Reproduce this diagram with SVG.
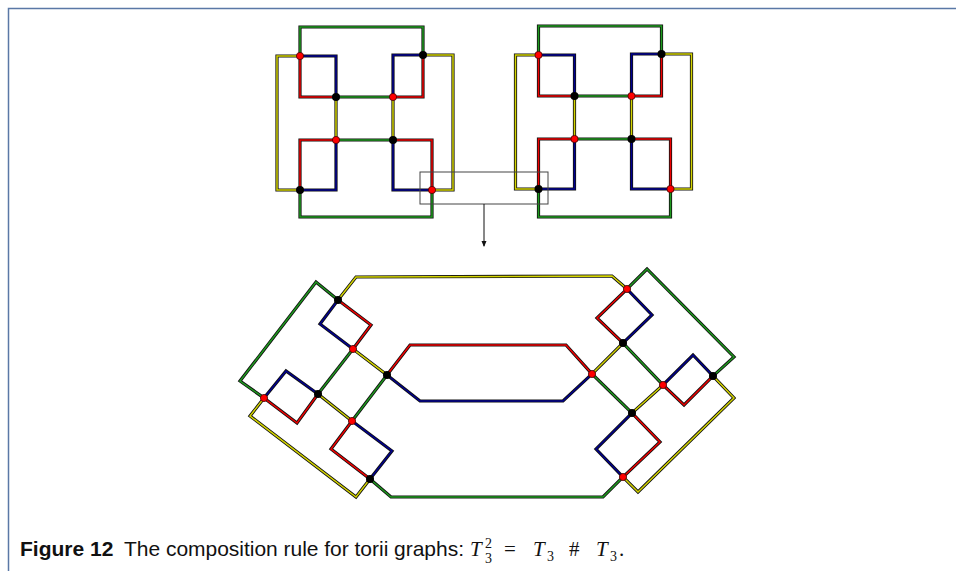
<svg xmlns="http://www.w3.org/2000/svg" width="956" height="571" viewBox="0 0 956 571">
<style>
.o{fill:none;stroke:#111;stroke-width:3.2;stroke-linejoin:miter;stroke-linecap:square}
.c{fill:none;stroke-width:1.5;stroke-linejoin:miter;stroke-linecap:square}
.g{stroke:#1e9a1e}.r{stroke:#f00000}.b{stroke:#000090}.y{stroke:#d4d400}
.nr{fill:#ff0000;stroke:#400;stroke-width:0.8}
.nb{fill:#000}
.cap{font-family:"Liberation Sans",Arial,sans-serif;font-size:21px;fill:#111}
.m{font-family:"Liberation Serif","Times New Roman",serif;font-style:italic;font-size:21px;fill:#111}
.mr{font-family:"Liberation Serif","Times New Roman",serif;font-size:21px;fill:#111}
.ms{font-family:"Liberation Serif","Times New Roman",serif;font-size:14px;fill:#111}
</style>
<defs>
<marker id="ah" viewBox="0 0 6 6" refX="5" refY="3" markerWidth="6" markerHeight="6" orient="auto" markerUnits="userSpaceOnUse">
<path d="M0,0.5 L6,3 L0,5.5 Z" fill="#111"/>
</marker>
</defs>
<rect width="956" height="571" fill="#fff"/>
<path d="M8.5,571 V8.5 H956" fill="none" stroke="#5a78a6" stroke-width="1.5"/>

<!-- Top left torus graph -->
<g id="graphA">
<g id="graphA-connectors">
<path class="o" d="M300,56 V27 H423 V55"/><path class="c g" d="M300,56 V27 H423 V55"/>
<path class="o" d="M300,56 H277 V190 H300"/><path class="c y" d="M300,56 H277 V190 H300"/>
<path class="o" d="M423,55 H453 V190 H432"/><path class="c y" d="M423,55 H453 V190 H432"/>
<path class="o" d="M300,56 H336 V97"/><path class="c b" d="M300,56 H336 V97"/>
<path class="o" d="M300,56 V97 H336"/><path class="c r" d="M300,56 V97 H336"/>
<path class="o" d="M336,97 H393"/><path class="c g" d="M336,97 H393"/>
<path class="o" d="M393,97 V55 H423"/><path class="c b" d="M393,97 V55 H423"/>
<path class="o" d="M423,55 V97 H393"/><path class="c r" d="M423,55 V97 H393"/>
<path class="o" d="M336,97 V140 M393,97 V140"/><path class="c y" d="M336,97 V140 M393,97 V140"/>
<path class="o" d="M336,140 H393"/><path class="c g" d="M336,140 H393"/>
<path class="o" d="M336,140 H300 V190"/><path class="c r" d="M336,140 H300 V190"/>
<path class="o" d="M336,140 V190 H300"/><path class="c b" d="M336,140 V190 H300"/>
<path class="o" d="M393,140 H432 V190"/><path class="c r" d="M393,140 H432 V190"/>
<path class="o" d="M393,140 V190 H432"/><path class="c b" d="M393,140 V190 H432"/>
<path class="o" d="M300,190 V217 H432 V190"/><path class="c g" d="M300,190 V217 H432 V190"/>
</g>
<g id="a1"><circle class="nr" cx="300" cy="56" r="3.6"/></g>
<g id="a2"><circle class="nb" cx="423" cy="55" r="4"/></g>
<g id="a3"><circle class="nb" cx="336" cy="97" r="4"/></g>
<g id="a4"><circle class="nr" cx="393" cy="97" r="3.6"/></g>
<g id="a5"><circle class="nr" cx="336" cy="140" r="3.6"/></g>
<g id="a6"><circle class="nb" cx="393" cy="140" r="4"/></g>
<g id="a7"><circle class="nb" cx="300" cy="190" r="4"/></g>
<g id="a8"><circle class="nr" cx="432" cy="190" r="3.6"/></g>
</g>

<!-- Top right torus graph -->
<g id="graphB" transform="translate(238.5,-1)">
<g id="graphB-connectors">
<path class="o" d="M300,56 V27 H423 V55"/><path class="c g" d="M300,56 V27 H423 V55"/>
<path class="o" d="M300,56 H277 V190 H300"/><path class="c y" d="M300,56 H277 V190 H300"/>
<path class="o" d="M423,55 H453 V190 H432"/><path class="c y" d="M423,55 H453 V190 H432"/>
<path class="o" d="M300,56 H336 V97"/><path class="c b" d="M300,56 H336 V97"/>
<path class="o" d="M300,56 V97 H336"/><path class="c r" d="M300,56 V97 H336"/>
<path class="o" d="M336,97 H393"/><path class="c g" d="M336,97 H393"/>
<path class="o" d="M393,97 V55 H423"/><path class="c b" d="M393,97 V55 H423"/>
<path class="o" d="M423,55 V97 H393"/><path class="c r" d="M423,55 V97 H393"/>
<path class="o" d="M336,97 V140 M393,97 V140"/><path class="c y" d="M336,97 V140 M393,97 V140"/>
<path class="o" d="M336,140 H393"/><path class="c g" d="M336,140 H393"/>
<path class="o" d="M336,140 H300 V190"/><path class="c r" d="M336,140 H300 V190"/>
<path class="o" d="M336,140 V190 H300"/><path class="c b" d="M336,140 V190 H300"/>
<path class="o" d="M393,140 H432 V190"/><path class="c r" d="M393,140 H432 V190"/>
<path class="o" d="M393,140 V190 H432"/><path class="c b" d="M393,140 V190 H432"/>
<path class="o" d="M300,190 V218 H432 V190"/><path class="c g" d="M300,190 V218 H432 V190"/>
</g>
<g id="b1"><circle class="nr" cx="300" cy="56" r="3.6"/></g>
<g id="b2"><circle class="nb" cx="423" cy="55" r="4"/></g>
<g id="b3"><circle class="nb" cx="336" cy="97" r="4"/></g>
<g id="b4"><circle class="nr" cx="393" cy="97" r="3.6"/></g>
<g id="b5"><circle class="nr" cx="336" cy="140" r="3.6"/></g>
<g id="b6"><circle class="nb" cx="393" cy="140" r="4"/></g>
<g id="b7"><circle class="nb" cx="300" cy="190" r="4"/></g>
<g id="b8"><circle class="nr" cx="432" cy="190" r="3.6"/></g>
</g>

<!-- selection box and arrow -->
<g id="selection">
<rect x="420" y="172" width="128" height="32" fill="none" stroke="#444" stroke-width="1"/>
<line x1="484" y1="204" x2="484" y2="246" stroke="#111" stroke-width="1" marker-end="url(#ah)"/>
</g>

<!-- Bottom composed graph -->
<g id="graphC">
<g id="graphC-connectors">
<path class="o" d="M338,300 L356,277 L612,276 L627,289"/><path class="c y" d="M338,300 L356,277 L612,276 L627,289"/>
<path class="o" d="M338,300 L316,282 L240,381 L264,398"/><path class="c g" d="M338,300 L316,282 L240,381 L264,398"/>
<path class="o" d="M338,300 L320,324 L353,349"/><path class="c b" d="M338,300 L320,324 L353,349"/>
<path class="o" d="M338,300 L371,325 L353,349"/><path class="c r" d="M338,300 L371,325 L353,349"/>
<path class="o" d="M353,349 L318,394"/><path class="c g" d="M353,349 L318,394"/>
<path class="o" d="M353,349 L387,375"/><path class="c y" d="M353,349 L387,375"/>
<path class="o" d="M387,375 L410,345 L566,345 L592,374"/><path class="c r" d="M387,375 L410,345 L566,345 L592,374"/>
<path class="o" d="M387,375 L420,401 L563,401 L592,374"/><path class="c b" d="M387,375 L420,401 L563,401 L592,374"/>
<path class="o" d="M387,375 L352,421"/><path class="c g" d="M387,375 L352,421"/>
<path class="o" d="M264,398 L286,371 L318,394"/><path class="c b" d="M264,398 L286,371 L318,394"/>
<path class="o" d="M264,398 L297,423 L318,394"/><path class="c r" d="M264,398 L297,423 L318,394"/>
<path class="o" d="M264,398 L250,416 L356,497 L370,479"/><path class="c y" d="M264,398 L250,416 L356,497 L370,479"/>
<path class="o" d="M318,394 L352,421"/><path class="c y" d="M318,394 L352,421"/>
<path class="o" d="M352,421 L331,449 L370,479"/><path class="c r" d="M352,421 L331,449 L370,479"/>
<path class="o" d="M352,421 L392,451 L370,479"/><path class="c b" d="M352,421 L392,451 L370,479"/>
<path class="o" d="M370,479 L391,497 L603,497 L623,477"/><path class="c g" d="M370,479 L391,497 L603,497 L623,477"/>
<path class="o" d="M627,289 L652,315 L623,343"/><path class="c b" d="M627,289 L652,315 L623,343"/>
<path class="o" d="M627,289 L597,318 L623,343"/><path class="c r" d="M627,289 L597,318 L623,343"/>
<path class="o" d="M627,289 L647,269 L734,357 L713,376"/><path class="c g" d="M627,289 L647,269 L734,357 L713,376"/>
<path class="o" d="M623,343 L592,374"/><path class="c y" d="M623,343 L592,374"/>
<path class="o" d="M623,343 L663,385"/><path class="c g" d="M623,343 L663,385"/>
<path class="o" d="M663,385 L693,355 L713,376"/><path class="c b" d="M663,385 L693,355 L713,376"/>
<path class="o" d="M663,385 L684,405 L713,376"/><path class="c r" d="M663,385 L684,405 L713,376"/>
<path class="o" d="M713,376 L734,398 L638,492 L623,477"/><path class="c y" d="M713,376 L734,398 L638,492 L623,477"/>
<path class="o" d="M592,374 L632,413"/><path class="c g" d="M592,374 L632,413"/>
<path class="o" d="M663,385 L632,413"/><path class="c y" d="M663,385 L632,413"/>
<path class="o" d="M632,413 L596,449 L623,477"/><path class="c b" d="M632,413 L596,449 L623,477"/>
<path class="o" d="M632,413 L660,442 L623,477"/><path class="c r" d="M632,413 L660,442 L623,477"/>
</g>
<g id="c1"><circle class="nb" cx="338" cy="300" r="4"/></g>
<g id="c2"><circle class="nr" cx="353" cy="349" r="3.6"/></g>
<g id="c3"><circle class="nb" cx="387" cy="375" r="4"/></g>
<g id="c4"><circle class="nr" cx="264" cy="398" r="3.6"/></g>
<g id="c5"><circle class="nb" cx="318" cy="394" r="4"/></g>
<g id="c6"><circle class="nr" cx="352" cy="421" r="3.6"/></g>
<g id="c7"><circle class="nb" cx="370" cy="479" r="4"/></g>
<g id="c8"><circle class="nr" cx="627" cy="289" r="3.6"/></g>
<g id="c9"><circle class="nb" cx="623" cy="343" r="4"/></g>
<g id="c10"><circle class="nr" cx="592" cy="374" r="3.6"/></g>
<g id="c11"><circle class="nr" cx="663" cy="385" r="3.6"/></g>
<g id="c12"><circle class="nb" cx="713" cy="376" r="4"/></g>
<g id="c13"><circle class="nb" cx="632" cy="413" r="4"/></g>
<g id="c14"><circle class="nr" cx="623" cy="477" r="3.6"/></g>
</g>

<!-- Caption -->
<g id="caption">
<text class="cap" x="20" y="556" font-weight="bold">Figure 12</text>
<text class="cap" x="124" y="556" textLength="340" lengthAdjust="spacing">The composition rule for torii graphs:</text>
<text class="m" x="470" y="556">T</text>
<text class="ms" x="485" y="548">2</text>
<text class="ms" x="485" y="563">3</text>
<text class="mr" x="504" y="556">=</text>
<text class="m" x="533" y="556">T</text>
<text class="ms" x="547" y="561">3</text>
<text class="mr" x="569" y="556">#</text>
<text class="m" x="596" y="556">T</text>
<text class="ms" x="610" y="561">3</text>
<text class="mr" x="619" y="556">.</text>
</g>
</svg>
